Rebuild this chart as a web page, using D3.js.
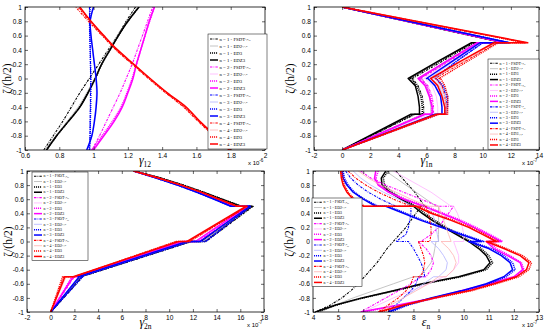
<!DOCTYPE html>
<html><head><meta charset="utf-8">
<script src="https://cdn.jsdelivr.net/npm/d3@7"></script>
<style>body{margin:0;background:#fff} svg{display:block}</style>
</head><body>
<svg id="c" width="550" height="333"></svg>
<script>
// ---------- DATA ----------
const kinds = ["FSDT", "ED2", "ED3", "EDZ3"];
const nValues = [1, 2, 3, 4];
const yTicks = [-1, -0.8, -0.6, -0.4, -0.2, 0, 0.2, 0.4, 0.6, 0.8, 1];

// Panel 1: gamma_12 (x 1e-6)
const zetaP1 = [-1, -0.8, -0.6, -0.4, -0.2, 0, 0.2, 0.4, 0.6, 0.8, 1];
const xTicksP1 = [0.6, 0.8, 1, 1.2, 1.4, 1.6, 1.8, 2];
const g12_n1 = [
  [0.71, 0.765, 0.82, 0.87, 0.92, 0.975, 1.03, 1.085, 1.14, 1.19, 1.245],
  [0.715, 0.78, 0.845, 0.91, 0.96, 1.005, 1.045, 1.09, 1.14, 1.195, 1.26],
  [0.725, 0.785, 0.853, 0.918, 0.966, 1.01, 1.048, 1.095, 1.145, 1.2, 1.265],
  [0.726, 0.785, 0.853, 0.92, 0.968, 1.01, 1.047, 1.096, 1.145, 1.2, 1.265]];
const g12_n2 = [
  [0.99, 1.035, 1.075, 1.115, 1.155, 1.19, 1.225, 1.255, 1.285, 1.315, 1.345],
  [0.995, 1.055, 1.11, 1.16, 1.195, 1.225, 1.25, 1.275, 1.3, 1.325, 1.355],
  [0.99, 1.05, 1.11, 1.16, 1.195, 1.225, 1.25, 1.275, 1.3, 1.327, 1.355],
  [1.0, 1.06, 1.12, 1.167, 1.2, 1.23, 1.25, 1.275, 1.3, 1.325, 1.355]];
const g12_n3 = [
  [0.978, 0.979, 0.98, 0.981, 0.982, 0.983, 0.982, 0.981, 0.979, 0.977, 0.976],
  [0.965, 0.99, 1.003, 1.012, 1.016, 1.013, 1.004, 0.994, 0.985, 0.982, 0.995],
  [0.975, 0.98, 0.981, 0.983, 0.984, 0.984, 0.982, 0.98, 0.978, 0.977, 0.98],
  [0.96, 0.99, 1.005, 1.015, 1.02, 1.015, 1.005, 0.995, 0.985, 0.98, 1.0]];
const g12_n4 = [
  [1.79, 1.70, 1.61, 1.525, 1.42, 1.32, 1.225, 1.13, 1.05, 0.97, 0.895],
  [1.8, 1.71, 1.62, 1.54, 1.43, 1.33, 1.235, 1.14, 1.06, 0.985, 0.915],
  [1.79, 1.705, 1.615, 1.53, 1.425, 1.325, 1.23, 1.135, 1.055, 0.98, 0.91],
  [1.8, 1.71, 1.62, 1.54, 1.43, 1.33, 1.235, 1.14, 1.06, 0.985, 0.92]];

// Panel 2: gamma_1n (x 1e-7)
const zetaP2 = [1, 0.5, 0.5, 0.25, 0, 0, -0.1, -0.25, -0.4, -0.5, -0.5, -1];
const xTicksP2 = [-2, 0, 2, 4, 6, 8, 10, 12, 14];
const g1n_n1 = [
  [0, 11.5, 9.4, 7.2, 5.0, 5.0, 5.4, 5.7, 5.8, 5.8, 5.2, 0],
  [0, 11.6, 9.7, 7.6, 5.5, 5.7, 6.0, 6.2, 6.3, 6.3, 5.7, 0],
  [0, 11.5, 9.3, 7.0, 4.8, 4.9, 5.3, 5.6, 5.7, 5.7, 5.1, 0],
  [0, 11.5, 9.2, 6.9, 4.7, 4.7, 5.2, 5.4, 5.5, 5.5, 4.9, 0]];
const g1n_n2 = [
  [0, 11.6, 9.8, 7.7, 5.6, 5.6, 6.1, 6.4, 6.5, 6.5, 5.9, 0],
  [0, 11.6, 9.8, 7.8, 5.8, 5.9, 6.4, 6.7, 6.8, 6.8, 6.2, 0],
  [0, 11.6, 9.7, 7.5, 5.5, 5.5, 6.0, 6.3, 6.4, 6.4, 5.8, 0],
  [0, 11.6, 9.6, 7.5, 5.4, 5.4, 5.9, 6.2, 6.4, 6.4, 5.9, 0]];
const g1n_n3 = [
  [0, 11.9, 10.0, 8.2, 6.5, 6.6, 7.1, 7.4, 7.4, 7.3, 6.8, 0],
  [0, 11.9, 9.9, 8.0, 6.2, 6.4, 6.9, 7.2, 7.3, 7.3, 6.8, 0],
  [0, 11.9, 10.0, 8.2, 6.6, 6.7, 7.2, 7.5, 7.5, 7.4, 6.8, 0],
  [0, 11.9, 9.8, 7.9, 6.0, 6.1, 6.6, 7.0, 7.1, 7.1, 6.6, 0]];
const g1n_n4 = [
  [0, 13.0, 11.0, 8.8, 6.6, 6.7, 7.1, 7.3, 7.4, 7.4, 6.8, 0],
  [0, 13.2, 10.9, 8.7, 6.5, 6.6, 7.0, 7.3, 7.4, 7.4, 6.8, 0],
  [0, 13.0, 11.1, 9.0, 6.9, 7.0, 7.3, 7.5, 7.5, 7.5, 6.9, 0],
  [0, 13.2, 10.8, 8.5, 6.3, 6.3, 6.8, 7.1, 7.3, 7.3, 6.7, 0]];

// Panel 3: gamma_2n (x 1e-7)
const zetaP3 = [1, 0.9, 0.8, 0.7, 0.6, 0.5, 0.5, 0, 0, -0.5, -0.5, -1];
const xTicksP3 = [-2, 0, 2, 4, 6, 8, 10, 12, 14, 16, 18];
const g2n_n1 = [
  [7.1, 9.3, 11.2, 12.9, 14.5, 16.1, 17.1, 13.1, 11.9, 2.6, 2.7, 0],
  [7.0, 9.1, 11.0, 12.7, 14.3, 15.9, 16.9, 12.8, 11.7, 2.5, 2.6, 0],
  [7.1, 9.3, 11.2, 12.9, 14.5, 16.1, 17.0, 13.0, 11.8, 2.5, 2.6, 0],
  [7.0, 9.2, 11.1, 12.8, 14.4, 16.0, 16.9, 12.7, 11.6, 2.4, 2.5, 0]];
const g2n_n2 = [
  [7.0, 9.0, 10.9, 12.5, 14.0, 15.5, 16.7, 12.5, 11.3, 2.2, 2.0, 0],
  [7.0, 9.0, 10.9, 12.5, 14.0, 15.5, 16.6, 12.3, 11.2, 2.1, 1.9, 0],
  [7.0, 9.0, 10.9, 12.5, 14.0, 15.5, 16.7, 12.4, 11.3, 2.2, 1.8, 0],
  [7.0, 9.0, 10.9, 12.5, 14.0, 15.4, 16.6, 12.2, 11.1, 2.1, 1.9, 0]];
const g2n_n3 = [
  [7.0, 8.9, 10.7, 12.3, 13.8, 15.2, 16.9, 13.0, 11.7, 2.5, 2.6, 0],
  [7.0, 8.9, 10.7, 12.3, 13.8, 15.2, 16.8, 12.8, 11.6, 2.4, 2.5, 0],
  [7.0, 8.9, 10.7, 12.3, 13.8, 15.2, 16.9, 13.1, 11.8, 2.5, 2.7, 0],
  [7.0, 8.9, 10.7, 12.3, 13.8, 15.2, 16.8, 12.6, 11.5, 2.3, 2.4, 0]];
const g2n_n4 = [
  [7.0, 9.1, 11.0, 12.7, 14.2, 15.8, 16.6, 11.7, 10.6, 2.0, 1.1, 0],
  [7.0, 9.1, 11.0, 12.7, 14.2, 15.7, 16.5, 11.6, 10.7, 1.9, 1.3, 0],
  [7.0, 9.1, 11.0, 12.7, 14.2, 15.8, 16.6, 11.7, 10.6, 2.0, 1.0, 0],
  [7.0, 9.1, 11.0, 12.7, 14.2, 15.7, 16.5, 11.5, 10.8, 1.9, 1.2, 0]];

// Panel 4: epsilon_n (x 1e-7)
const zetaP4 = [1, 0.9, 0.8, 0.7, 0.6, 0.5, 0.5, 0.4, 0.3, 0.2, 0.1, 0, 0, -0.1, -0.2, -0.3, -0.4, -0.5, -0.5, -0.6, -0.7, -0.8, -0.9, -1];
const xTicksP4 = [4, 5, 6, 7, 8, 9, 10, 11, 12, 13];
const en_n1 = [
  [7.3, 7.55, 7.8, 8.05, 8.25, 8.45, 8.3, 8.1, 7.9, 7.7, 7.45, 7.2, 7.2, 6.95, 6.75, 6.55, 6.3, 6.05, 6.05, 5.8, 5.5, 5.15, 4.7, 4.1],
  [6.9, 7.3, 7.7, 8.1, 8.5, 8.9, 9.0, 9.0, 9.0, 9.0, 9.0, 9.0, 8.9, 8.85, 8.8, 8.7, 8.5, 8.2, 8.0, 7.2, 6.4, 5.6, 4.9, 4.3],
  [7.0, 6.8, 6.85, 7.15, 7.6, 8.1, 8.1, 8.45, 8.85, 9.3, 9.8, 10.3, 10.3, 10.7, 11.0, 11.15, 10.9, 9.9, 9.9, 8.45, 7.25, 6.0, 4.95, 4.15],
  [6.9, 6.72, 6.75, 7.05, 7.5, 8.0, 8.0, 8.35, 8.75, 9.2, 9.7, 10.2, 10.2, 10.6, 10.9, 11.05, 10.8, 9.8, 9.8, 8.35, 7.2, 5.95, 4.9, 4.1]];
const en_n2 = [
  [5.9, 6.3, 6.9, 7.6, 8.3, 9.0, 9.6, 9.4, 9.2, 9.0, 8.7, 8.3, 8.2, 8.5, 8.7, 8.8, 8.7, 8.5, 8.3, 7.9, 7.4, 6.9, 6.4, 5.9],
  [7.2, 7.7, 8.2, 8.7, 9.1, 9.5, 9.6, 9.75, 9.85, 9.95, 10.0, 10.0, 9.6, 9.7, 9.8, 9.8, 9.6, 9.3, 9.2, 8.6, 7.9, 7.2, 6.6, 6.0],
  [6.6, 6.5, 6.65, 7.05, 7.7, 8.5, 8.5, 9.2, 9.9, 10.5, 11.05, 11.55, 11.0, 11.3, 11.85, 12.3, 12.4, 12.05, 12.05, 11.1, 10.0, 8.9, 7.5, 6.0],
  [6.5, 6.45, 6.6, 7.0, 7.6, 8.4, 8.4, 9.1, 9.8, 10.4, 10.95, 11.5, 10.9, 11.2, 11.75, 12.25, 12.35, 12.0, 12.0, 11.0, 9.9, 8.8, 7.4, 5.9]];
const en_n3 = [
  [5.3, 5.5, 5.8, 6.2, 6.7, 7.3, 7.9, 7.9, 7.85, 7.8, 7.7, 7.3, 7.8, 8.0, 8.15, 8.3, 8.4, 8.45, 8.2, 8.1, 7.9, 7.6, 7.3, 7.0],
  [5.6, 5.9, 6.3, 6.8, 7.4, 8.0, 8.6, 8.75, 8.85, 8.9, 8.95, 9.0, 8.7, 9.0, 9.2, 9.35, 9.3, 9.0, 8.8, 8.4, 8.0, 7.6, 7.3, 7.1],
  [5.2, 5.25, 5.4, 5.65, 6.05, 6.6, 7.0, 7.7, 8.4, 9.2, 10.0, 10.8, 10.3, 11.1, 11.6, 11.95, 12.05, 11.7, 11.7, 11.0, 10.0, 8.8, 7.8, 7.1],
  [5.15, 5.2, 5.35, 5.6, 6.0, 6.5, 6.9, 7.6, 8.3, 9.1, 9.9, 10.7, 10.2, 11.0, 11.5, 11.85, 11.95, 11.6, 11.6, 10.9, 9.9, 8.7, 7.7, 7.0]];
const en_n4 = [
  [5.4, 5.7, 6.1, 6.6, 7.2, 7.9, 8.5, 8.6, 8.65, 8.7, 8.7, 8.65, 8.2, 8.3, 8.4, 8.45, 8.4, 8.3, 8.0, 7.9, 7.7, 7.4, 7.0, 6.6],
  [5.8, 6.2, 6.7, 7.3, 7.9, 8.6, 9.0, 9.1, 9.2, 9.3, 9.4, 9.5, 9.1, 9.4, 9.6, 9.7, 9.6, 9.3, 9.0, 8.6, 8.1, 7.6, 7.1, 6.7],
  [5.15, 5.18, 5.25, 5.4, 5.65, 6.05, 8.2, 8.8, 9.6, 10.3, 10.85, 11.4, 11.0, 11.7, 12.35, 12.7, 12.6, 12.2, 12.2, 11.3, 10.3, 8.9, 7.7, 6.7],
  [5.1, 5.13, 5.2, 5.35, 5.6, 6.0, 8.1, 8.7, 9.5, 10.2, 10.75, 11.3, 10.9, 11.6, 12.25, 12.6, 12.5, 12.1, 12.1, 11.2, 10.2, 8.8, 7.6, 6.6]];

// ---------- STYLE ----------
const baseColors = ["#000000", "#ff00ff", "#0000ff", "#ff0000"];
const lightColors = ["#b5b5b5", "#ffb3ff", "#b3b3ff", "#ffb3b3"];
const styleOf = {
  FSDT: {w: 1.1, dash: "2.4,1.1,0.8,1.1", light: false},
  ED2:  {w: 0.8, dash: null, light: true},
  ED3:  {w: 1.5, dash: "1.1,0.9", light: false},
  EDZ3: {w: 1.5, dash: null, light: false}
};

const panels = [
  {x0: 25, x1: 265, y0: 7, y1: 150, xDomain: [0.6, 2], xTicks: xTicksP1, zeta: zetaP1,
   data: [g12_n1, g12_n2, g12_n3, g12_n4], curve: d3.curveCatmullRom, ylabDx: 14.5,
   xlab: ["γ", "12"], mult: "-6", leg: {x: 208, y: 34, w: 59, rowH: 7.0, fs: 4.8}},
  {x0: 314, x1: 539, y0: 7, y1: 150, xDomain: [-2, 14], xTicks: xTicksP2, zeta: zetaP2,
   data: [g1n_n1, g1n_n2, g1n_n3, g1n_n4], curve: d3.curveLinear, ylabDx: 20,
   xlab: ["γ", "1n"], mult: "-7", leg: {x: 488, y: 59, w: 51, rowH: 5.45, fs: 4.0}},
  {x0: 27, x1: 264, y0: 171, y1: 312, xDomain: [-2, 18], xTicks: xTicksP3, zeta: zetaP3,
   data: [g2n_n1, g2n_n2, g2n_n3, g2n_n4], curve: d3.curveLinear, ylabDx: 15.5,
   xlab: ["γ", "2n"], mult: "-7", leg: {x: 32, y: 172, w: 56, rowH: 5.35, fs: 3.9}},
  {x0: 313, x1: 539, y0: 171, y1: 312, xDomain: [4, 13], xTicks: xTicksP4, zeta: zetaP4,
   data: [en_n1, en_n2, en_n3, en_n4], curve: d3.curveLinear, ylabDx: 20,
   xlab: ["ε", "n"], mult: "-7", leg: {x: 312, y: 198, w: 50, rowH: 5.35, fs: 3.9}}
];

const svg = d3.select("#c");
const defs = svg.append("defs");
const tickFont = "'Liberation Sans', Arial, sans-serif";
const serif = "'Liberation Serif', 'DejaVu Serif', serif";

function styleLine(sel, ni, ki) {
  const st = styleOf[kinds[ki]];
  sel.attr("fill", "none")
    .attr("stroke", st.light ? lightColors[ni] : baseColors[ni])
    .attr("stroke-width", st.w)
    .attr("stroke-dasharray", st.dash)
    .attr("stroke-linejoin", "round");
}

panels.forEach((p, pi) => {
  const x = d3.scaleLinear().domain(p.xDomain).range([p.x0, p.x1]);
  const y = d3.scaleLinear().domain([-1, 1]).range([p.y1, p.y0]);
  const g = svg.append("g");
  defs.append("clipPath").attr("id", "clip" + pi).append("rect")
    .attr("x", p.x0).attr("y", p.y0).attr("width", p.x1 - p.x0).attr("height", p.y1 - p.y0);
  const lg = g.append("g").attr("clip-path", `url(#clip${pi})`);
  const line = d3.line().x(d => x(d[0])).y(d => y(d[1])).curve(p.curve);
  p.data.forEach((group, ni) => {
    group.forEach((vals, ki) => {
      lg.append("path").attr("d", line(vals.map((v, i) => [v, p.zeta[i]])))
        .call(styleLine, ni, ki);
    });
  });

  // axes with inward ticks
  const fmt = d => String(d);
  const axes = [
    g.append("g").attr("transform", `translate(0,${p.y1})`)
      .call(d3.axisBottom(x).tickValues(p.xTicks).tickSize(-3).tickPadding(3).tickFormat(fmt)),
    g.append("g").attr("transform", `translate(0,${p.y0})`)
      .call(d3.axisTop(x).tickValues(p.xTicks).tickSize(-3).tickFormat("")),
    g.append("g").attr("transform", `translate(${p.x0},0)`)
      .call(d3.axisLeft(y).tickValues(yTicks).tickSize(-3).tickPadding(3).tickFormat(fmt)),
    g.append("g").attr("transform", `translate(${p.x1},0)`)
      .call(d3.axisRight(y).tickValues(yTicks).tickSize(-3).tickFormat(""))
  ];
  axes.forEach(a => {
    a.select(".domain").remove();
    a.selectAll(".tick line").attr("stroke", "#000").attr("stroke-width", 0.6);
    a.selectAll(".tick text").attr("font-family", tickFont).attr("font-size", 6.6).attr("fill", "#000");
  });
  g.append("rect").attr("x", p.x0).attr("y", p.y0).attr("width", p.x1 - p.x0).attr("height", p.y1 - p.y0)
    .attr("fill", "none").attr("stroke", "#000").attr("stroke-width", 0.8);

  // x label
  const xl = g.append("text").attr("x", (p.x0 + p.x1) / 2).attr("y", p.y1 + 14)
    .attr("text-anchor", "middle").attr("font-family", serif).attr("font-size", 12);
  xl.append("tspan").attr("font-style", "italic").text(p.xlab[0]);
  xl.append("tspan").attr("font-size", 7.5).attr("dy", 2.5).text(p.xlab[1]);

  // multiplier
  const mt = g.append("text").attr("x", p.x1 - 17).attr("y", p.y1 + 15)
    .attr("font-family", tickFont).attr("font-size", 6).attr("fill", "#000");
  mt.append("tspan").text("x 10");
  mt.append("tspan").attr("font-size", 4.5).attr("dy", -3).text(p.mult);

  // y label
  g.append("text").attr("transform", `translate(${p.x0 - p.ylabDx},${(p.y0 + p.y1) / 2}) rotate(-90)`)
    .attr("text-anchor", "middle").attr("font-family", serif).attr("font-size", 11.5)
    .text("ζ/(h/2)");

  // legend
  const L = p.leg;
  const lgd = g.append("g");
  lgd.append("rect").attr("x", L.x).attr("y", L.y).attr("width", L.w).attr("height", L.rowH * 16 + 3)
    .attr("fill", "#fff").attr("stroke", "#000").attr("stroke-width", 0.5);
  nValues.forEach((n, ni) => {
    kinds.forEach((k, ki) => {
      const i = ni * 4 + ki;
      const yy = L.y + 1.5 + L.rowH * (i + 0.5);
      lgd.append("line").attr("x1", L.x + 2).attr("x2", L.x + 10).attr("y1", yy).attr("y2", yy)
        .call(styleLine, ni, ki);
      const t = lgd.append("text").attr("x", L.x + 11.5).attr("y", yy + L.fs * 0.32)
        .attr("font-family", serif).attr("font-size", L.fs).attr("fill", "#000");
      t.append("tspan").text(`n = ${n} - ${k}`);
      if (k === "FSDT") {
        t.append("tspan").attr("font-size", L.fs * 0.55).attr("dy", -L.fs * 0.2).text("1,2");
        t.append("tspan").attr("font-size", L.fs * 0.55).attr("dy", L.fs * 0.3).text("zz");
      } else if (k === "ED2") {
        t.append("tspan").attr("font-size", L.fs * 0.55).attr("dy", -L.fs * 0.2).text("z,1,2");
      }
    });
  });
});
</script>
</body></html>
